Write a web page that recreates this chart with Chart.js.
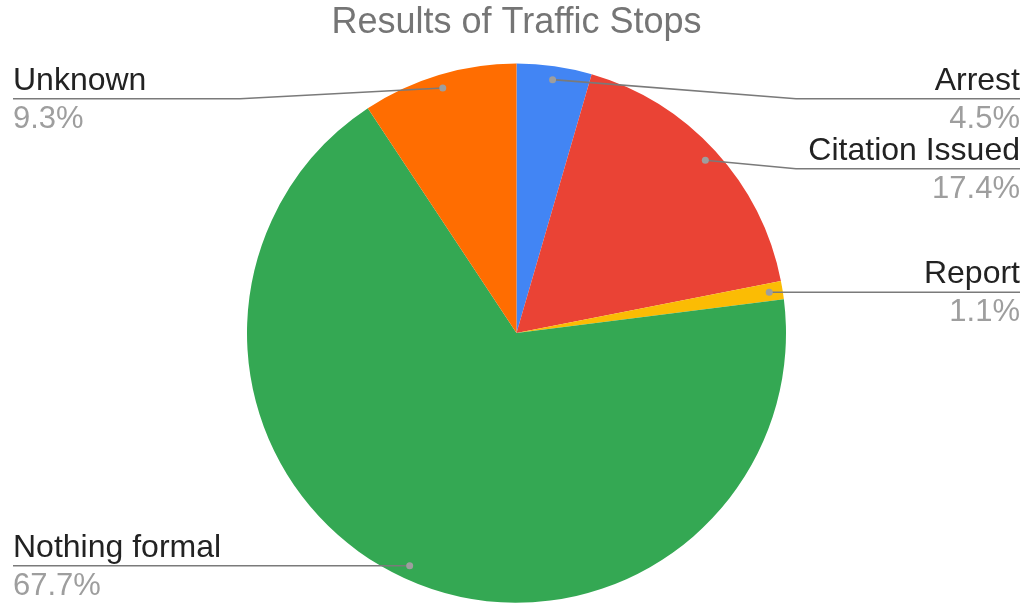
<!DOCTYPE html>
<html>
<head>
<meta charset="utf-8">
<script src="https://cdn.jsdelivr.net/npm/chart.js@4"></script>
<style>
html,body{margin:0;padding:0;background:#fff;}
#wrap{width:1028px;height:603px;position:relative;}
</style>
</head>
<body>
<div id="wrap"><canvas id="c"></canvas></div>
<script>
const titleText = 'Results of Traffic Stops';
const categories = ['Arrest', 'Citation Issued', 'Report', 'Nothing formal', 'Unknown'];
const values = [4.5, 17.4, 1.1, 67.7, 9.3];
const colors = ['#4285F4', '#EA4335', '#FBBC04', '#34A853', '#FF6D01'];

const FONT = "'Liberation Sans', Arial, sans-serif";

const labelPlugin = {
  id: 'pieLabels',
  afterDatasetsDraw(chart) {
    const ctx = chart.ctx;
    const meta = chart.getDatasetMeta(0);
    const total = values.reduce((a, b) => a + b, 0);
    const area = chart.chartArea;
    const items = [];
    meta.data.forEach((arc, i) => {
      const p = arc.getProps(['x', 'y', 'startAngle', 'endAngle', 'outerRadius'], true);
      const mid = (p.startAngle + p.endAngle) / 2;
      const rr = p.outerRadius * 0.95;
      const dx = p.x + Math.cos(mid) * rr;
      const dy = p.y + Math.sin(mid) * rr;
      items.push({
        i, dx, dy, cx: p.x, r: p.outerRadius,
        side: Math.cos(mid) >= 0 ? 'right' : 'left',
        pct: (values[i] / total * 100).toFixed(1) + '%'
      });
    });
    const minY = area.top + 35.5;
    const gap = 70;
    ['left', 'right'].forEach(side => {
      const list = items.filter(o => o.side === side).sort((a, b) => a.dy - b.dy);
      let prev = -Infinity;
      list.forEach(o => {
        o.ly = Math.max(o.dy, minY, prev + gap);
        prev = o.ly;
      });
    });
    const leftX = 13, rightX = 1020;
    items.forEach(o => {
      ctx.save();
      ctx.strokeStyle = '#7a7a7a';
      ctx.lineWidth = 1.6;
      ctx.beginPath();
      ctx.moveTo(o.dx, o.dy);
      if (o.side === 'right') {
        const ex = o.cx + o.r + 10;
        if (Math.abs(o.ly - o.dy) > 0.5) ctx.lineTo(ex, o.ly);
        ctx.lineTo(rightX, o.ly);
      } else {
        const ex = o.cx - o.r - 7;
        if (Math.abs(o.ly - o.dy) > 0.5) ctx.lineTo(ex, o.ly);
        ctx.lineTo(leftX, o.ly);
      }
      ctx.stroke();
      ctx.fillStyle = '#9e9e9e';
      ctx.beginPath();
      ctx.arc(o.dx, o.dy, 3.5, 0, Math.PI * 2);
      ctx.fill();
      ctx.textBaseline = 'alphabetic';
      ctx.textAlign = o.side === 'right' ? 'right' : 'left';
      const tx = o.side === 'right' ? rightX : leftX;
      ctx.fillStyle = '#222222';
      ctx.font = '32px ' + FONT;
      ctx.fillText(categories[o.i], tx, o.ly - 9);
      ctx.fillStyle = '#9e9e9e';
      ctx.font = '31px ' + FONT;
      ctx.fillText(o.pct, tx, o.ly + 29);
      ctx.restore();
    });
  }
};

new Chart(document.getElementById('c'), {
  type: 'pie',
  data: {
    labels: categories,
    datasets: [{
      data: values,
      backgroundColor: colors,
      borderWidth: 0
    }]
  },
  options: {
    responsive: true,
    maintainAspectRatio: false,
    animation: false,
    layout: { padding: { left: 247, right: 242, top: 0, bottom: 0 } },
    plugins: {
      legend: { display: false },
      tooltip: { enabled: false },
      title: {
        display: true,
        text: titleText,
        color: '#757575',
        font: { family: FONT, size: 36, weight: 'normal', lineHeight: 1.2 },
        padding: { top: 1, bottom: 19 }
      }
    }
  },
  plugins: [labelPlugin]
});
</script>
</body>
</html>
